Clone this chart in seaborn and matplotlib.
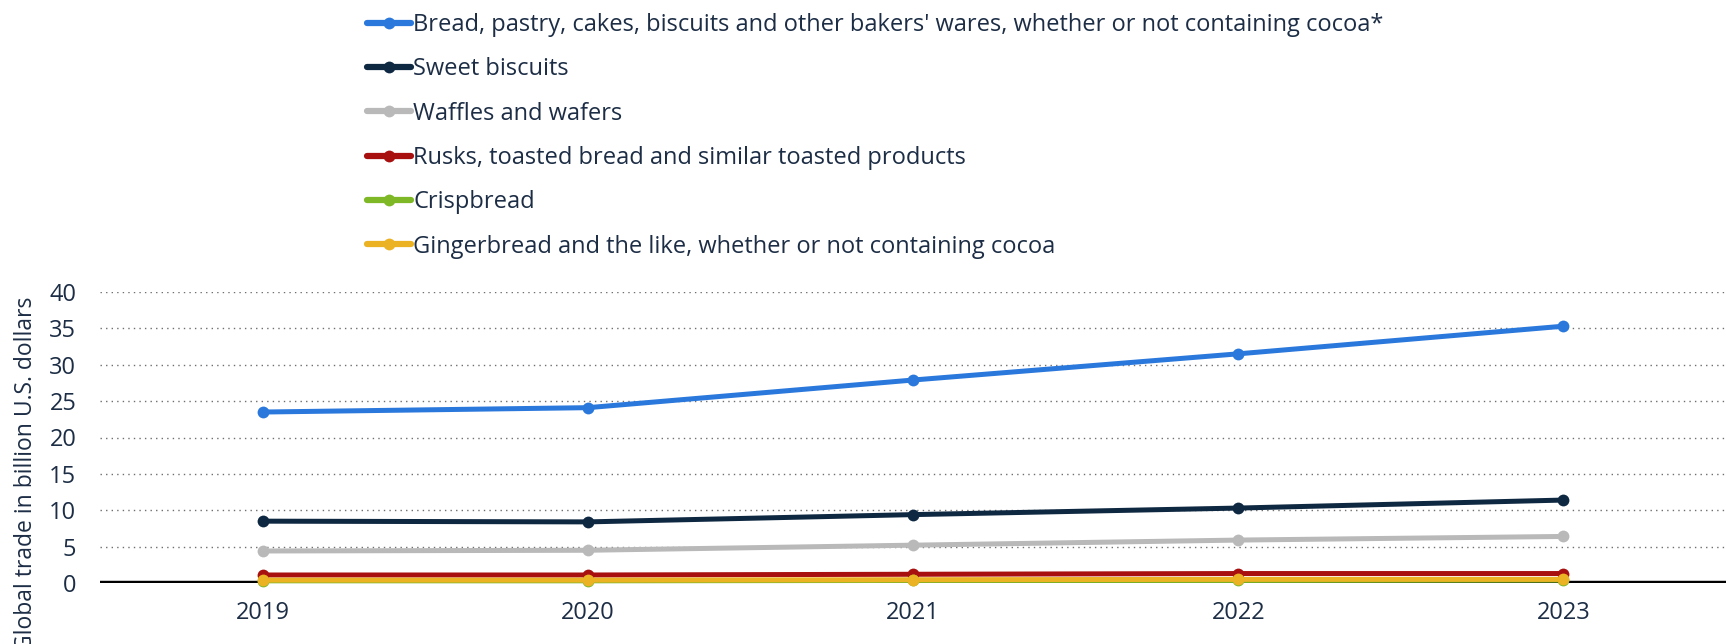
import matplotlib
matplotlib.use("Agg")
import matplotlib.pyplot as plt
import seaborn as sns
import pandas as pd

# Global trade value of bakery products, billion U.S. dollars
years = [2019, 2020, 2021, 2022, 2023]
categories = [
    "Bread, pastry, cakes, biscuits and other bakers' wares, whether or not containing cocoa*",
    "Sweet biscuits",
    "Waffles and wafers",
    "Rusks, toasted bread and similar toasted products",
    "Crispbread",
    "Gingerbread and the like, whether or not containing cocoa",
]
bread_pastry = [23.5, 24.1, 27.9, 31.5, 35.3]
sweet_biscuits = [8.5, 8.4, 9.4, 10.3, 11.4]
waffles_wafers = [4.4, 4.5, 5.2, 5.9, 6.4]
rusks = [1.1, 1.1, 1.2, 1.3, 1.3]
crispbread = [0.3, 0.3, 0.35, 0.35, 0.4]
gingerbread = [0.4, 0.4, 0.45, 0.5, 0.5]
y_ticks = [0, 5, 10, 15, 20, 25, 30, 35, 40]

colors = ["#2a78dc", "#0f2841", "#b9b9b9", "#a80f0f", "#7fb826", "#ebb223"]
text_color = "#1c2d45"

series = [bread_pastry, sweet_biscuits, waffles_wafers, rusks, crispbread, gingerbread]
df = pd.DataFrame(
    [(y, cat, v) for cat, vals in zip(categories, series) for y, v in zip(years, vals)],
    columns=["year", "category", "value"],
)

sns.set_theme(style="white")
plt.rcParams["font.family"] = ["Open Sans", "DejaVu Sans"]

fig = plt.figure(figsize=(17.26, 6.44), dpi=100)
ax = fig.add_axes([100 / 1726, 1 - 583 / 644, 1626 / 1726, 291 / 644])

sns.lineplot(
    data=df, x="year", y="value", hue="category", hue_order=categories,
    palette=colors, marker="o", markersize=8.5, markeredgewidth=0,
    linewidth=3.6, ax=ax, legend=True, clip_on=False, zorder=3,
)

ax.set_xlim(2018.5, 2023.5)
ax.set_ylim(0, 40)
ax.set_xticks(years)
ax.set_xticklabels([str(y) for y in years])
ax.set_yticks(y_ticks)
ax.set_yticklabels([str(t) for t in y_ticks])
ax.tick_params(axis="both", length=0, labelsize=17, labelcolor=text_color)
ax.tick_params(axis="x", pad=13)
ax.tick_params(axis="y", pad=17)
ax.set_xlabel("")
ax.set_ylabel("")

for sp in ax.spines.values():
    sp.set_visible(False)
for t in y_ticks[1:]:
    ax.axhline(t, color="#6e6e6e", linestyle=(0, (1, 3)), linewidth=1.0, zorder=1)
ax.axhline(0, color="black", linewidth=3.2, zorder=2)

fig.text(26 / 1726, 1 - 297 / 644, "Global trade in billion U.S. dollars",
         rotation=90, ha="center", va="top", fontsize=16.5, color=text_color)

handles, labels = ax.get_legend_handles_labels()
ax.legend_.remove()
leg = fig.legend(
    handles, labels, loc="upper left", bbox_to_anchor=(354 / 1726, 1.0),
    frameon=False, fontsize=17, labelcolor=text_color, handlelength=1.85,
    handletextpad=0.1, labelspacing=0.86, borderaxespad=0.15,
)
for h in leg.legend_handles:
    h.set_linewidth(4.5)
    h.set_markersize(8.5)

fig.savefig("out.png", dpi=100)
